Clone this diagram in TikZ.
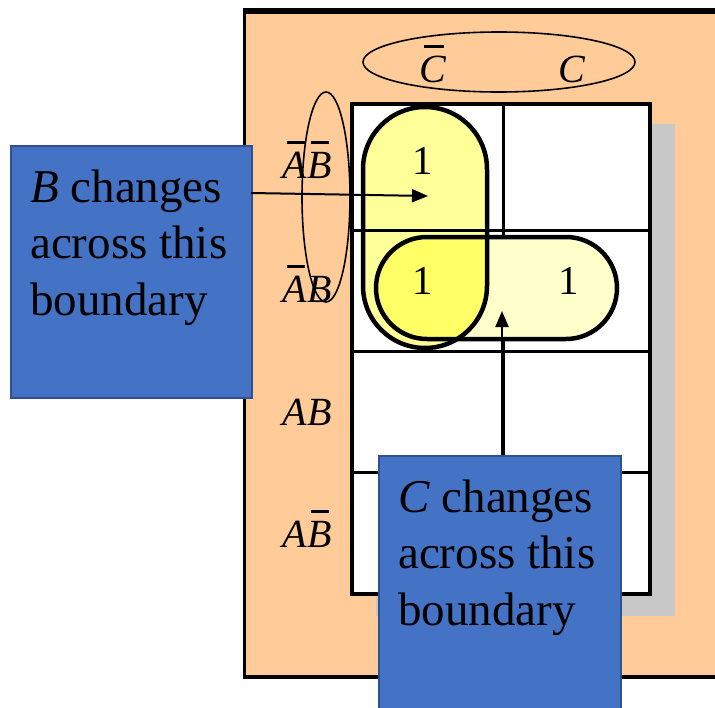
\documentclass[tikz,border=0pt]{standalone}
\usepackage{fontspec}
\setmainfont{Liberation Serif}
\usetikzlibrary{arrows.meta}
\definecolor{peach}{HTML}{FFCC99}
\definecolor{shadowgrey}{HTML}{C8C8C8}
\definecolor{pillA}{HTML}{FFFF99}
\definecolor{pillB}{HTML}{FFFFCC}
\definecolor{pillAB}{HTML}{FFFF66}
\definecolor{boxblue}{HTML}{4472C4}
\definecolor{boxedge}{HTML}{2F528F}
\newcommand\obar[1]{\setbox0\hbox{#1}\vbox{\offinterlineskip\hbox{\kern 4pt\vrule width \dimexpr\wd0-6pt\relax height 3pt depth 0pt}\kern 8pt\box0}}
\begin{document}
\begin{tikzpicture}[x=1pt,y=-1pt,
  lab/.style={font=\fontsize{40}{48}\selectfont\itshape, inner sep=0pt, anchor=base},
  one/.style={font=\fontsize{41}{48}\selectfont, inner sep=0pt, anchor=base},
  bluebox/.style={fill=boxblue, draw=boxedge, line width=1.5pt, inner sep=0pt, anchor=north west},
  btext/.style={font=\fontsize{47}{56.5}\selectfont, align=left, inner sep=0pt, anchor=north west},
  arr/.style={line width=2pt, -{Triangle[length=16pt,width=13pt]}},
  pillline/.style={line width=4.5pt},
  ell/.style={line width=1.6pt}
]
\useasboundingbox (0,0) rectangle (715,707);
% panel
\fill[peach] (243,8) rectangle (730,679);
\draw[line width=3.5pt] (730,677) -- (244.5,677) -- (244.5,10) -- (730,10);
\draw[line width=6pt] (242.75,10.5) -- (730,10.5);
% shadow and grid background
\fill[shadowgrey] (376,124) rectangle (675,616);
\fill[white] (352,104) rectangle (650,594);
% vertical pill fill
\fill[pillA, rounded corners=62pt] (363,107) rectangle (487,348);
% grid lines
\draw[line width=3pt] (503,104) -- (503,594);
\draw[line width=3pt] (352,230) -- (650,230);
\draw[line width=3pt] (352,351) -- (650,351);
\draw[line width=3pt] (352,472) -- (650,472);
\draw[line width=4pt] (352,104) rectangle (650,594);
% horizontal pill fill and overlap
\fill[pillB, rounded corners=51pt] (376,237) rectangle (617,339);
\begin{scope}
  \clip[rounded corners=62pt] (363,107) rectangle (487,348);
  \fill[pillAB, rounded corners=51pt] (376,237) rectangle (617,339);
\end{scope}
% pill outlines
\draw[pillline, rounded corners=62pt] (363,107) rectangle (487,348);
\draw[pillline, rounded corners=51pt] (376,237) rectangle (617,339);
% ones
\node[one] (o1) at (423,174) {1};
\node[one] (o2) at (423,294) {1};
\node[one] (o3) at (569,294) {1};
% column labels
\node[lab] (cbar) at (433,82) {\obar{C}};
\node[lab] (c) at (572,82) {C};
\draw[ell] (499,62) ellipse [x radius=136, y radius=30];
% row labels
\node[lab] (r1) at (307,178) {\obar{A}\obar{B}};
\node[lab] (r2) at (307,302) {\obar{A}B};
\node[lab] (r3) at (307,425) {AB};
\node[lab] (r4) at (307,547) {A\obar{B}};
\draw[ell] (326,197) ellipse [x radius=24, y radius=105];
% blue boxes
\node[bluebox, minimum width=241pt, minimum height=252pt] (boxB) at (10,145) {};
\node[btext] (tB) at (30,162.5) {\strut\textit{B} changes\\across this\\boundary};
\node[bluebox, minimum width=242pt, minimum height=262pt] (boxC) at (378,455) {};
\node[btext] (tC) at (398,472.5) {\strut\textit{C} changes\\across this\\boundary};
% arrows
\coordinate (a1s) at (251,193);
\coordinate (a1e) at (428,196);
\draw[arr] (a1s) -- (a1e);
\coordinate (a2s) at (502,455);
\coordinate (a2e) at (502,311);
\draw[arr] (a2s) -- (a2e);
\end{tikzpicture}
\end{document}
